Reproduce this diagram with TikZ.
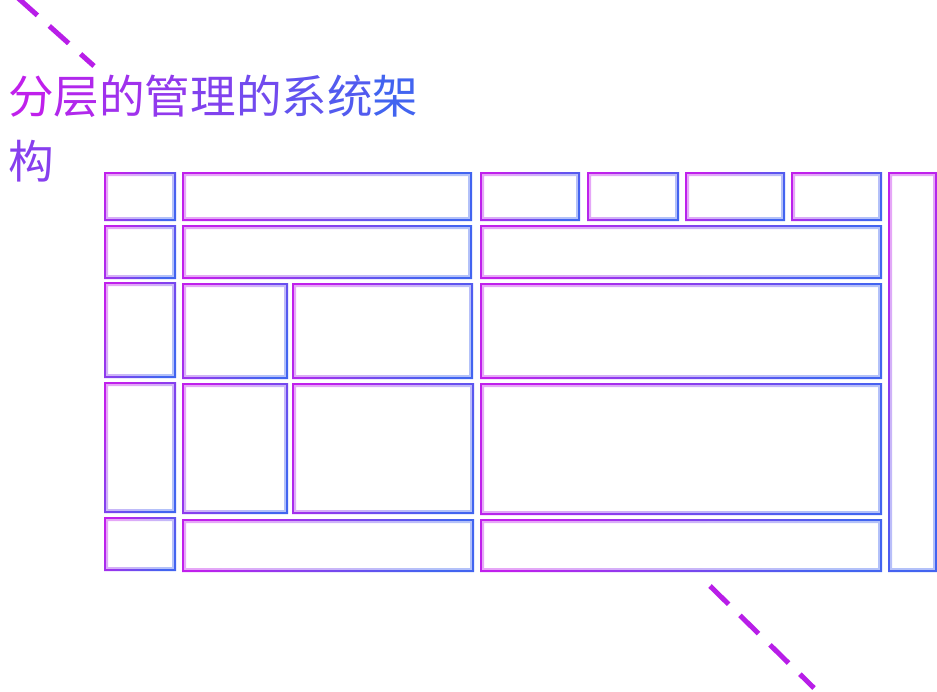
\documentclass[tikz,border=0pt]{standalone}
\usepackage{fontspec}
\newfontfamily\cjk{Noto Sans CJK SC}
\definecolor{mag}{RGB}{192,32,236}
\definecolor{blu}{RGB}{66,100,240}
\definecolor{dashc}{RGB}{184,30,232}
\newcommand{\gbox}[4]{%
  \shade[even odd rule, left color=mag, right color=blu, shading angle=60]
    (#1,#2) rectangle (#3,#4) ({#1+1.8},{#2+1.8}) rectangle ({#3-1.8},{#4-1.8});
  \shade[even odd rule, left color=mag, right color=blu, shading angle=60, fill opacity=0.4]
    ({#1+1.8},{#2+1.8}) rectangle ({#3-1.8},{#4-1.8}) ({#1+4},{#2+4}) rectangle ({#3-4},{#4-4});
}
\tikzset{
  deco/.style={draw=dashc, line width=5pt, dash pattern=on 26pt off 16pt},
  titletext/.style={font=\cjk\fontsize{45.6pt}{65pt}\selectfont, inner sep=0pt, anchor=base west}
}
\begin{document}
\begin{tikzpicture}[x=1pt,y=-1pt]
\useasboundingbox (0,0) rectangle (937,691);
% decorative dashed lines
\coordinate (d1a) at (18,-2);
\coordinate (d1b) at (94,66);
\draw[deco] (d1a) -- (d1b);
\coordinate (d2a) at (710,586);
\coordinate (d2b) at (814,688);
\draw[deco] (d2a) -- (d2b);
% title
\node[titletext] (title1) at (8,113) {%
\textcolor{mag}{分}\textcolor{blu!12!mag}{层}\textcolor{blu!25!mag}{的}\textcolor{blu!37!mag}{管}\textcolor{blu!50!mag}{理}\textcolor{blu!62!mag}{的}\textcolor{blu!75!mag}{系}\textcolor{blu!87!mag}{统}\textcolor{blu}{架}};
\node[titletext] (title2) at (8,178) {\textcolor{blu!45!mag}{构}};
% row 1
\gbox{104}{172}{176}{221}
\gbox{182}{172}{472}{221}
\gbox{480}{172}{580}{221}
\gbox{587}{172}{679}{221}
\gbox{685}{172}{785}{221}
\gbox{791}{172}{882}{221}
% right tall box
\gbox{888}{172}{937}{572}
% row 2
\gbox{104}{225}{176}{279}
\gbox{182}{225}{472}{279}
\gbox{480}{225}{882}{279}
% row 3
\gbox{104}{282}{176}{378}
\gbox{182}{283}{288}{379}
\gbox{292}{283}{473}{379}
\gbox{480}{283}{882}{379}
% row 4
\gbox{104}{382}{176}{513}
\gbox{182}{383}{288}{514}
\gbox{292}{383}{474}{514}
\gbox{480}{383}{882}{515}
% row 5
\gbox{104}{517}{176}{571}
\gbox{182}{519}{474}{572}
\gbox{480}{519}{882}{572}
\end{tikzpicture}
\end{document}
